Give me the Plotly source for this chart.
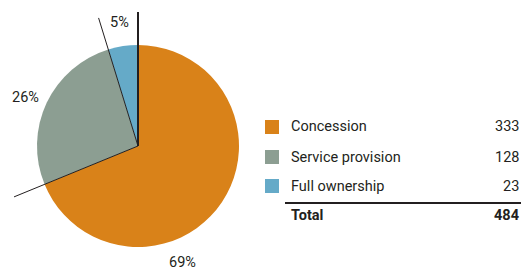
import math
import plotly.graph_objects as go

categories = ["Concession", "Service provision", "Full ownership"]
values = [333, 128, 23]
percent_labels = ["69%", "26%", "5%"]
total_label = "Total"
total_value = 484
colors = ["#D98219", "#8C9E92", "#65AAC8"]

W, H = 527, 270
cx, cy, r = 138, 146, 101  # pixel centre/radius of pie
FONT = "Roboto"
FS = 14.5
TXT = "#231F20"

def px(x):
    return x / W

def py(y):
    return 1 - y / H

fig = go.Figure()
fig.add_trace(go.Pie(
    labels=categories, values=values, sort=False, direction="clockwise",
    rotation=0, textinfo="none", hoverinfo="label+value",
    marker=dict(colors=colors, line=dict(width=0)),
    domain=dict(x=[px(cx - r), px(cx + r)], y=[py(cy + r), py(cy - r)]),
    showlegend=False,
))

shapes = []
annotations = []

# boundary leader lines computed from the data
tot = sum(values)
cum = 0
L = 134
for i, v in enumerate(values):
    theta = 2 * math.pi * cum / tot
    ex = cx + L * math.sin(theta)
    ey = cy - L * math.cos(theta)
    shapes.append(dict(type="line", xref="paper", yref="paper",
                       x0=px(cx), y0=py(cy), x1=px(ex), y1=py(ey),
                       line=dict(color=TXT, width=2 if i == 0 else 1), layer="above"))
    cum += v

# percent labels
label_pos = [(182, 262), (25, 98), (119, 23)]
for t, (x, y) in zip(percent_labels, label_pos):
    annotations.append(dict(text=t, x=px(x), y=py(y), xref="paper", yref="paper",
                            showarrow=False, xanchor="center", yanchor="middle",
                            font=dict(family=FONT, size=FS, color=TXT)))

# legend table
rows_y = [127, 157, 186]
for cat, val, col, y in zip(categories, values, colors, rows_y):
    shapes.append(dict(type="rect", xref="paper", yref="paper",
                       x0=px(265), x1=px(279), y0=py(y - 7), y1=py(y + 7),
                       fillcolor=col, line=dict(width=0)))
    annotations.append(dict(text=cat, x=px(289), y=py(y), xref="paper", yref="paper",
                            showarrow=False, xanchor="left", yanchor="middle",
                            font=dict(family=FONT, size=FS, color=TXT)))
    annotations.append(dict(text=str(val), x=px(521), y=py(y), xref="paper", yref="paper",
                            showarrow=False, xanchor="right", yanchor="middle",
                            font=dict(family=FONT, size=FS, color=TXT)))

shapes.append(dict(type="line", xref="paper", yref="paper",
                   x0=px(285), x1=px(521), y0=py(203), y1=py(203),
                   line=dict(color=TXT, width=2)))
annotations.append(dict(text="<b>" + total_label + "</b>", x=px(289), y=py(215),
                        xref="paper", yref="paper", showarrow=False,
                        xanchor="left", yanchor="middle",
                        font=dict(family=FONT, size=FS, color=TXT)))
annotations.append(dict(text="<b>" + str(total_value) + "</b>", x=px(521), y=py(215),
                        xref="paper", yref="paper", showarrow=False,
                        xanchor="right", yanchor="middle",
                        font=dict(family=FONT, size=FS, color=TXT)))

fig.update_layout(
    width=W, height=H, margin=dict(l=0, r=0, t=0, b=0),
    paper_bgcolor="white", plot_bgcolor="white",
    shapes=shapes, annotations=annotations,
)
fig.write_html("out.html", config={"displayModeBar": False},
               post_script="document.body.style.margin='0';document.body.style.overflow='hidden';")
